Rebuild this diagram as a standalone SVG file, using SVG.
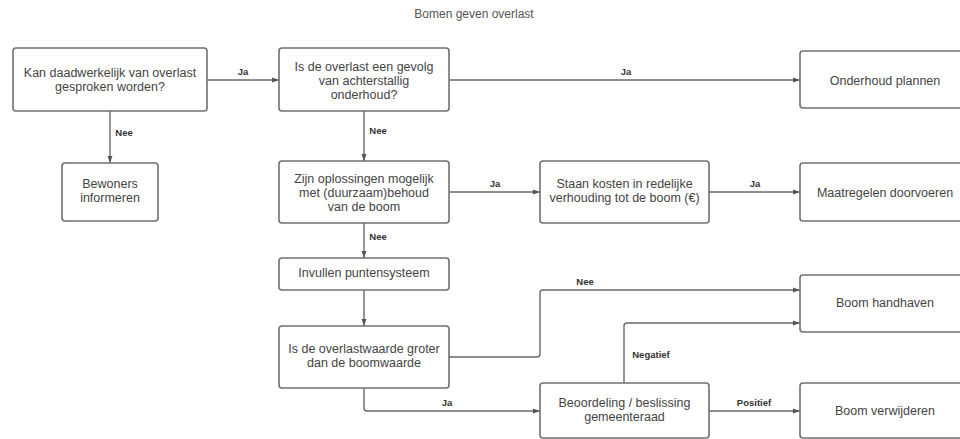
<svg xmlns="http://www.w3.org/2000/svg" width="960" height="439" viewBox="0 0 960 439">
<style>
.box{fill:#fff;stroke:#707070;stroke-width:1.6}
.t{font-family:"Liberation Sans",Arial,sans-serif;font-size:12.5px;fill:#444;text-anchor:middle}
.lbl{font-family:"Liberation Sans",Arial,sans-serif;font-size:9.5px;font-weight:bold;fill:#333;text-anchor:middle}
.c{fill:none;stroke:#6a6a6a;stroke-width:1.4;marker-end:url(#ah)}
</style>
<defs>
<marker id="ah" viewBox="0 0 10 10" refX="10" refY="5" markerWidth="10" markerHeight="7" markerUnits="userSpaceOnUse" orient="auto">
<path d="M0,1.5 L10,5 L0,8.5 z" fill="#555"/>
</marker>
</defs>
<rect width="960" height="439" fill="#fff"/>
<text class="t" x="474" y="18" style="font-size:12px;fill:#555">Bomen geven overlast</text>

<g id="connectors">
<path class="c" d="M207,80 H279"/>
<path class="c" d="M110,111 V163"/>
<path class="c" d="M364,111 V161"/>
<path class="c" d="M449,80 H800"/>
<path class="c" d="M449,192 H540"/>
<path class="c" d="M709,192 H800"/>
<path class="c" d="M364,223 V258"/>
<path class="c" d="M364,290 V326"/>
<path class="c" d="M449,357 H537 Q540,357 540,354 V293 Q540,290 543,290 H800"/>
<path class="c" d="M364,388 V408 Q364,411 367,411 H540"/>
<path class="c" d="M624,383 V326 Q624,323 627,323 H800"/>
<path class="c" d="M709,411 H800"/>
<text class="lbl" x="243" y="75">Ja</text>
<text class="lbl" x="124" y="136">Nee</text>
<text class="lbl" x="378" y="134">Nee</text>
<text class="lbl" x="626" y="75">Ja</text>
<text class="lbl" x="495" y="187">Ja</text>
<text class="lbl" x="755" y="187">Ja</text>
<text class="lbl" x="378" y="240">Nee</text>
<text class="lbl" x="585" y="285">Nee</text>
<text class="lbl" x="447" y="406">Ja</text>
<text class="lbl" x="651" y="358">Negatief</text>
<text class="lbl" x="754" y="406">Positief</text>
</g>

<g id="n1"><rect class="box" x="13" y="48" width="194" height="63" rx="3"/>
<text class="t" x="110" y="77">Kan daadwerkelijk van overlast</text>
<text class="t" x="110" y="91">gesproken worden?</text></g>

<g id="n2"><rect class="box" x="62" y="163" width="96" height="58" rx="3"/>
<text class="t" x="110" y="188">Bewoners</text>
<text class="t" x="110" y="202">informeren</text></g>

<g id="n3"><rect class="box" x="279" y="48" width="170" height="63" rx="3"/>
<text class="t" x="364" y="70.5">Is de overlast een gevolg</text>
<text class="t" x="364" y="84.5">van achterstallig</text>
<text class="t" x="364" y="98.5">onderhoud?</text></g>

<g id="n4"><rect class="box" x="279" y="161" width="170" height="62" rx="3"/>
<text class="t" x="364" y="182.5">Zijn oplossingen mogelijk</text>
<text class="t" x="364" y="196.5">met (duurzaam)behoud</text>
<text class="t" x="364" y="210.5">van de boom</text></g>

<g id="n5"><rect class="box" x="279" y="258" width="170" height="32" rx="3"/>
<text class="t" x="364" y="276.5">Invullen puntensysteem</text></g>

<g id="n6"><rect class="box" x="279" y="326" width="170" height="62" rx="3"/>
<text class="t" x="364" y="353">Is de overlastwaarde groter</text>
<text class="t" x="364" y="367">dan de boomwaarde</text></g>

<g id="n7"><rect class="box" x="540" y="161" width="169" height="62" rx="3"/>
<text class="t" x="624.5" y="188">Staan kosten in redelijke</text>
<text class="t" x="624.5" y="202">verhouding tot de boom (€)</text></g>

<g id="n8"><rect class="box" x="540" y="383" width="169" height="55" rx="3"/>
<text class="t" x="624.5" y="407">Beoordeling / beslissing</text>
<text class="t" x="624.5" y="421">gemeenteraad</text></g>

<g id="n9"><rect class="box" x="800" y="51" width="170" height="57" rx="3"/>
<text class="t" x="885" y="84.5">Onderhoud plannen</text></g>

<g id="n10"><rect class="box" x="800" y="163" width="170" height="58" rx="3"/>
<text class="t" x="885" y="196.5">Maatregelen doorvoeren</text></g>

<g id="n11"><rect class="box" x="800" y="275" width="170" height="57" rx="3"/>
<text class="t" x="885" y="306.5">Boom handhaven</text></g>

<g id="n12"><rect class="box" x="800" y="383" width="170" height="55" rx="3"/>
<text class="t" x="885" y="414.5">Boom verwijderen</text></g>
</svg>
